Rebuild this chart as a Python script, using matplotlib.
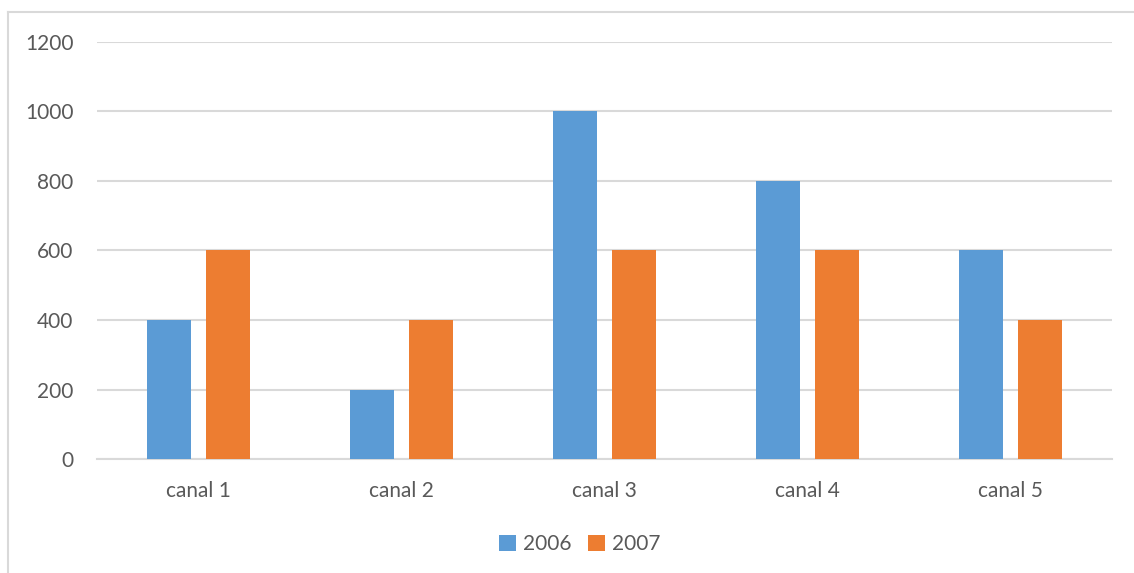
import matplotlib.pyplot as plt
import numpy as np
from matplotlib.lines import Line2D

categories = ["canal 1", "canal 2", "canal 3", "canal 4", "canal 5"]
values_2006 = [400, 200, 1000, 800, 600]
values_2007 = [600, 400, 600, 600, 400]
series_names = ["2006", "2007"]
y_ticks = [0, 200, 400, 600, 800, 1000, 1200]

blue = "#5B9BD5"
orange = "#ED7D31"
text_col = "#595959"
grid_col = "#D9D9D9"

plt.rcParams['font.family'] = ['Lato', 'DejaVu Sans']

W, H = 1134, 573
fig = plt.figure(figsize=(W / 100, H / 100), dpi=100)
ax = fig.add_axes([97 / W, 1 - 459 / H, (1112 - 97) / W, (459 - 42) / H])

x = np.arange(len(categories))
bw = 0.22
off = 0.145
ax.bar(x - off, values_2006, bw, color=blue, label=series_names[0], zorder=3)
ax.bar(x + off, values_2007, bw, color=orange, label=series_names[1], zorder=3)

ax.set_xlim(-0.5, len(categories) - 0.5)
ax.set_ylim(0, 1200)
ax.set_yticks(y_ticks)
ax.set_xticks(x)
ax.set_xticklabels(categories)
ax.yaxis.grid(True, color=grid_col, linewidth=1.5, zorder=0)
ax.tick_params(axis='both', length=0, labelsize=15, colors=text_col)
ax.tick_params(axis='y', pad=17)
ax.tick_params(axis='x', pad=16)
for s in ['top', 'right', 'left']:
    ax.spines[s].set_visible(False)
ax.spines['bottom'].set_color(grid_col)
ax.spines['bottom'].set_linewidth(1.5)

leg = fig.legend(loc='center', bbox_to_anchor=(580 / W, 1 - 544 / H), ncol=2,
                 frameon=False, fontsize=15, handlelength=0.8, handleheight=0.8,
                 handletextpad=0.35, columnspacing=0.8)
for t in leg.get_texts():
    t.set_color(text_col)

# outer chart frame (left and top edges only)
fig.add_artist(Line2D([8 / W, 8 / W], [0, 1 - 12 / H], color=grid_col, linewidth=1.5))
fig.add_artist(Line2D([8 / W, 1], [1 - 12 / H, 1 - 12 / H], color=grid_col, linewidth=1.5))

fig.savefig("out.png", dpi=100)
